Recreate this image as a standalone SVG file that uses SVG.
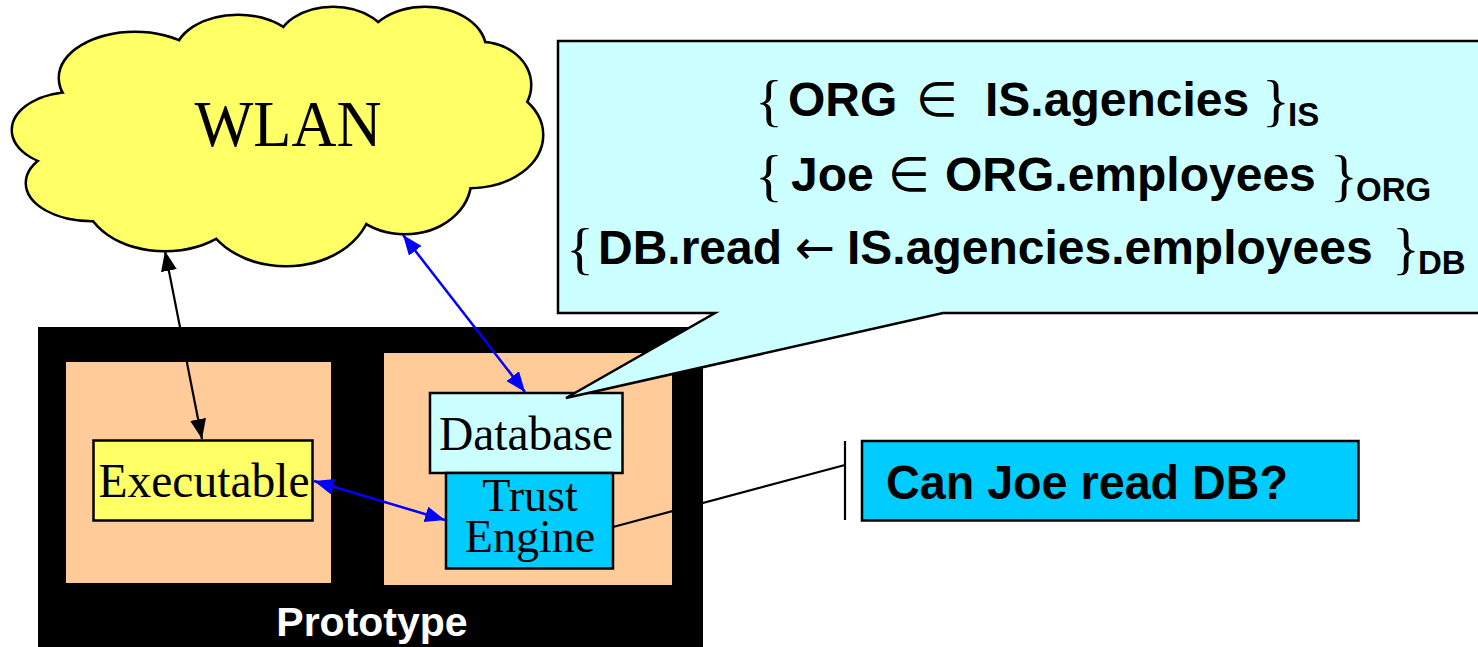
<svg xmlns="http://www.w3.org/2000/svg" width="1478" height="647" viewBox="0 0 1478 647">
<style>
.serif{font-family:"Liberation Serif","Times New Roman",serif;fill:#000}
.sans{font-family:"Liberation Sans",Arial,sans-serif;font-weight:bold}
.sym{font-family:"DejaVu Sans","Liberation Sans",sans-serif;font-weight:normal}
.brace{font-family:"Liberation Serif","Times New Roman",serif;font-weight:normal}
.box{stroke:#000;stroke-width:2.5}
.blue{stroke:#0000FF;stroke-width:2.5;fill:none}
.blk{stroke:#000;stroke-width:2.2;fill:none}
.cs ellipse{fill:none;stroke:#000;stroke-width:5}
.cf ellipse{fill:#FFFF66;stroke:none}
</style>
<defs>
<marker id="ah" markerUnits="userSpaceOnUse" markerWidth="22" markerHeight="18" refX="20" refY="8" orient="auto-start-reverse" viewBox="0 0 22 18">
<path d="M0,0 L20,8 L0,16 Z" fill="#000"/>
</marker>
<marker id="ahb" markerUnits="userSpaceOnUse" markerWidth="22" markerHeight="18" refX="20" refY="8" orient="auto-start-reverse" viewBox="0 0 22 18">
<path d="M0,0 L20,8 L0,16 Z" fill="#0000FF"/>
</marker>
</defs>
<rect width="1478" height="647" fill="#fff"/>

<g id="wlan">
<g class="cs">
<ellipse cx="135" cy="78" rx="75" ry="45"/>
<ellipse cx="238" cy="55" rx="62" ry="39"/>
<ellipse cx="333" cy="45" rx="55" ry="37"/>
<ellipse cx="425" cy="50" rx="60" ry="42"/>
<ellipse cx="480" cy="85" rx="50" ry="42"/>
<ellipse cx="470" cy="135" rx="72" ry="52"/>
<ellipse cx="405" cy="180" rx="65" ry="53"/>
<ellipse cx="286" cy="200" rx="85" ry="65"/>
<ellipse cx="165" cy="195" rx="80" ry="55"/>
<ellipse cx="92" cy="183" rx="65" ry="37"/>
<ellipse cx="75" cy="130" rx="62" ry="37"/>
</g>
<g class="cf">
<ellipse cx="135" cy="78" rx="75" ry="45"/>
<ellipse cx="238" cy="55" rx="62" ry="39"/>
<ellipse cx="333" cy="45" rx="55" ry="37"/>
<ellipse cx="425" cy="50" rx="60" ry="42"/>
<ellipse cx="480" cy="85" rx="50" ry="42"/>
<ellipse cx="470" cy="135" rx="72" ry="52"/>
<ellipse cx="405" cy="180" rx="65" ry="53"/>
<ellipse cx="286" cy="200" rx="85" ry="65"/>
<ellipse cx="165" cy="195" rx="80" ry="55"/>
<ellipse cx="92" cy="183" rx="65" ry="37"/>
<ellipse cx="75" cy="130" rx="62" ry="37"/>
<ellipse cx="280" cy="140" rx="190" ry="85"/>
</g>
<text class="serif" x="288" y="146" font-size="65" text-anchor="middle" textLength="187" lengthAdjust="spacingAndGlyphs">WLAN</text>
</g>

<g id="prototype">
<rect x="38" y="327" width="665" height="330" fill="#000"/>
<text class="sans" x="372" y="636" font-size="41" fill="#fff" text-anchor="middle">Prototype</text>
</g>
<g id="left-host">
<rect x="66" y="362" width="265" height="221" fill="#FFCC99"/>
</g>
<g id="right-host">
<rect x="384" y="353" width="288" height="232" fill="#FFCC99"/>
</g>

<g id="executable">
<rect class="box" x="93.5" y="440.5" width="219" height="80" fill="#FFFF66"/>
<text class="serif" x="204" y="497" font-size="47.5" text-anchor="middle">Executable</text>
</g>
<g id="database">
<rect class="box" x="430" y="393" width="192.5" height="80" fill="#CCFFFF"/>
<text class="serif" x="526" y="450" font-size="47.5" text-anchor="middle">Database</text>
</g>
<g id="trust-engine">
<rect class="box" x="446" y="473" width="167" height="95.5" fill="#00CCFF"/>
<text class="serif" x="530" y="511" font-size="46" text-anchor="middle">Trust</text>
<text class="serif" x="530" y="552" font-size="46" text-anchor="middle">Engine</text>
</g>

<g id="connectors">
<line class="blk" x1="165" y1="251" x2="202" y2="439" marker-start="url(#ah)" marker-end="url(#ah)"/>
<line class="blue" x1="403" y1="235" x2="525" y2="392" marker-start="url(#ahb)" marker-end="url(#ahb)"/>
<line class="blue" x1="314" y1="481" x2="445" y2="520" marker-start="url(#ahb)" marker-end="url(#ahb)"/>
<line class="blk" x1="613" y1="527" x2="845" y2="465"/>
<line class="blk" x1="845" y1="441" x2="845" y2="520"/>
</g>

<g id="credentials-callout">
<path d="M558,41 L1490,41 L1490,313 L943,313 L566,398 L715,313 L558,313 Z" fill="#CCFFFF" stroke="#000" stroke-width="2.5" stroke-linejoin="miter"/>
<text class="sans" y="116" font-size="48"><tspan class="brace" x="755" dy="4" font-size="58">{</tspan><tspan x="788" dy="-4">ORG</tspan><tspan class="sym" x="916">∈</tspan><tspan x="985">IS.agencies</tspan><tspan class="brace" x="1262" dy="4" font-size="58">}</tspan><tspan x="1288" dy="6" font-size="33">IS</tspan></text>
<text class="sans" y="191" font-size="48"><tspan class="brace" x="755" dy="4" font-size="58">{</tspan><tspan x="791" dy="-4">Joe</tspan><tspan class="sym" x="888">∈</tspan><tspan x="945">ORG.employees</tspan><tspan class="brace" x="1330" dy="4" font-size="58">}</tspan><tspan x="1356" dy="6" font-size="33">ORG</tspan></text>
<text class="sans" y="264" font-size="48"><tspan class="brace" x="566" dy="4" font-size="58">{</tspan><tspan x="598" dy="-4">DB.read</tspan><tspan class="sym" x="795">←</tspan><tspan x="847">IS.agencies.employees</tspan><tspan class="brace" x="1392" dy="4" font-size="58">}</tspan><tspan x="1418" dy="6" font-size="33">DB</tspan></text>
</g>

<g id="query">
<rect class="box" x="862" y="441" width="496.5" height="79.5" fill="#00CCFF"/>
<text class="sans" x="886" y="499" font-size="48" textLength="402" lengthAdjust="spacingAndGlyphs">Can Joe read DB?</text>
</g>
</svg>
